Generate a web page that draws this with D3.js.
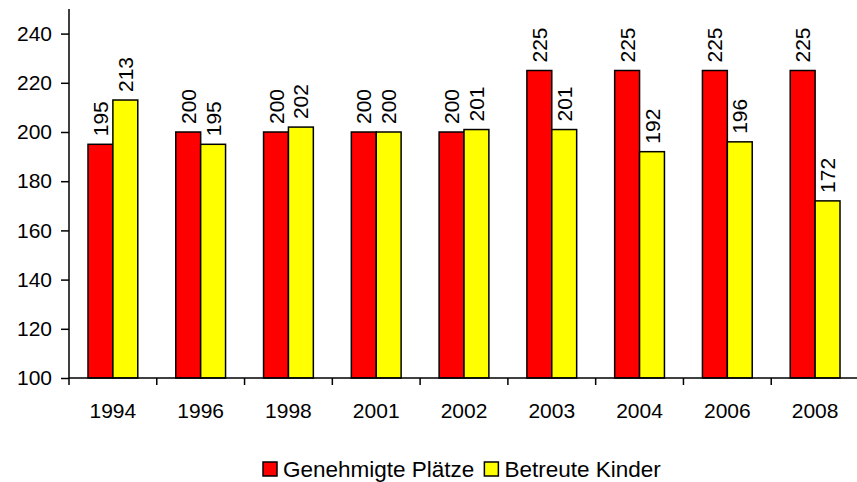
<!DOCTYPE html>
<html>
<head>
<meta charset="utf-8">
<script src="https://cdn.jsdelivr.net/npm/d3@7"></script>
<style>
  body { margin: 0; background: #fff; }
  text { font-family: "Liberation Sans", Arial, sans-serif; fill: #000; }
</style>
</head>
<body>
<div id="chart"></div>
<script>
// Data
var years = ["1994", "1996", "1998", "2001", "2002", "2003", "2004", "2006", "2008"];
var genehmigt = [195, 200, 200, 200, 200, 225, 225, 225, 225];
var betreut = [213, 195, 202, 200, 201, 201, 192, 196, 172];
var yTicks = [100, 120, 140, 160, 180, 200, 220, 240];
var seriesNames = ["Genehmigte Plätze", "Betreute Kinder"];
var seriesColors = ["#ff0000", "#ffff00"];

var svgWidth = 857;
var svgHeight = 482;

var margin = { top: 9, left: 69 };
var width = 790;
var height = 378 - margin.top;

var svg = d3.select("#chart")
  .append("svg")
  .attr("width", svgWidth)
  .attr("height", svgHeight);

var chartGroup = svg.append("g")
  .attr("transform", `translate(${margin.left}, ${margin.top})`);

// Scales
var xScale = d3.scaleBand()
  .domain(years)
  .range([0, width]);

var xInner = d3.scaleBand()
  .domain([0, 1])
  .range([19, xScale.bandwidth() - 19]);

var yScale = d3.scaleLinear()
  .domain([100, 250])
  .range([height, 0]);

var table = years.map(function(y, i) {
  return { year: y, values: [genehmigt[i], betreut[i]] };
});

// Bars
var groups = chartGroup.selectAll(".group")
  .data(table)
  .enter()
  .append("g")
  .attr("transform", d => `translate(${xScale(d.year)}, 0)`);

groups.selectAll("rect")
  .data(d => d.values)
  .enter()
  .append("rect")
  .attr("x", (d, i) => xInner(i))
  .attr("y", d => yScale(d))
  .attr("width", xInner.bandwidth())
  .attr("height", d => height - yScale(d))
  .attr("fill", (d, i) => seriesColors[i])
  .attr("stroke", "#000")
  .attr("stroke-width", 1.5);

// Value labels (rotated)
groups.selectAll(".val")
  .data(d => d.values)
  .enter()
  .append("text")
  .attr("class", "val")
  .attr("transform", (d, i) => `translate(${xInner(i) + xInner.bandwidth() / 2 + 7.5}, ${yScale(d) - 8}) rotate(-90)`)
  .style("font-size", "21px")
  .text(d => d);

// Y axis
var leftAxis = d3.axisLeft(yScale)
  .tickValues(yTicks)
  .tickSize(8)
  .tickPadding(9);

var yaxis = chartGroup.append("g").call(leftAxis);
yaxis.attr("font-size", null).attr("font-family", null);
yaxis.select(".domain").attr("stroke-width", 1.5).attr("d", `M0,0V${height}`);
yaxis.selectAll(".tick line").attr("stroke-width", 1.5);
yaxis.selectAll(".tick text").style("font-size", "21px");

// X axis
var xaxis = chartGroup.append("g").attr("transform", `translate(0, ${height})`);
xaxis.append("line")
  .attr("x1", 0).attr("x2", width)
  .attr("stroke", "#000").attr("stroke-width", 1.5);
xaxis.selectAll(".xt")
  .data(years.concat(["end"]))
  .enter()
  .append("line")
  .attr("x1", (d, i) => i * xScale.step())
  .attr("x2", (d, i) => i * xScale.step())
  .attr("y1", 0).attr("y2", 7)
  .attr("stroke", "#000").attr("stroke-width", 1.5);
xaxis.selectAll(".xl")
  .data(years)
  .enter()
  .append("text")
  .attr("x", d => xScale(d) + xScale.bandwidth() / 2)
  .attr("y", 40)
  .attr("text-anchor", "middle")
  .style("font-size", "21px")
  .text(d => d);

// Legend
var legend = svg.append("g").attr("transform", "translate(263, 462)");
var lx = 0;
seriesNames.forEach(function(name, i) {
  legend.append("rect")
    .attr("x", lx).attr("y", 0)
    .attr("width", 14).attr("height", 14)
    .attr("fill", seriesColors[i])
    .attr("stroke", "#000").attr("stroke-width", 1.5);
  var t = legend.append("text")
    .attr("x", lx + 20).attr("y", 15)
    .style("font-size", "22.5px")
    .text(name);
  lx = lx + 20 + t.node().getComputedTextLength() + 10;
});
</script>
</body>
</html>
